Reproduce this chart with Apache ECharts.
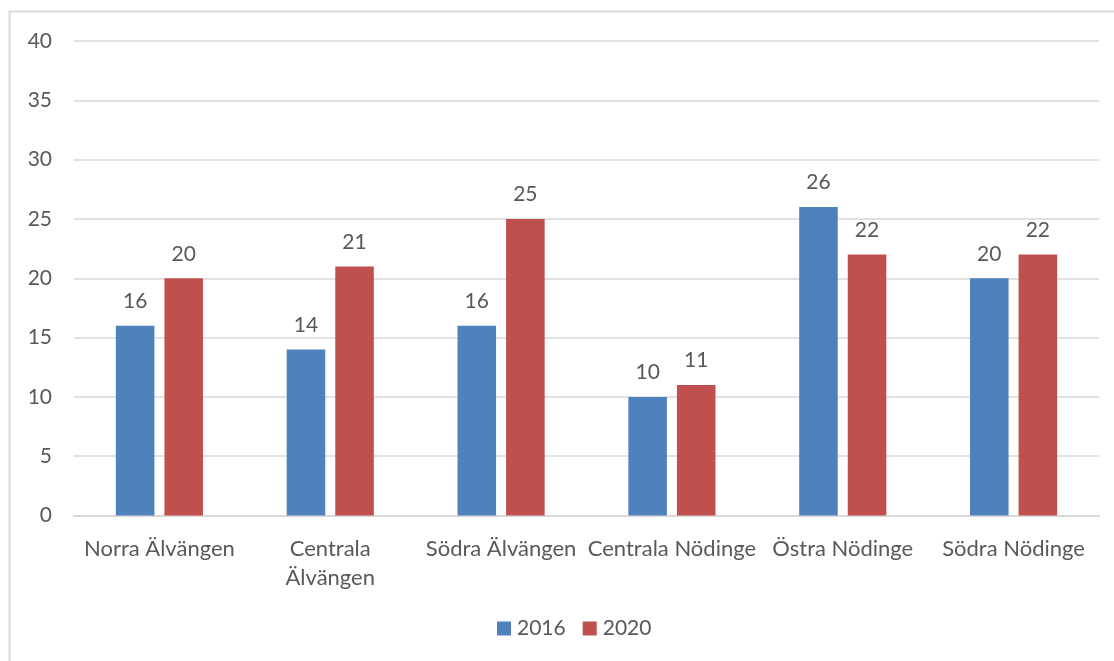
<!DOCTYPE html>
<html>
<head>
<meta charset="utf-8">
<script src="https://cdn.jsdelivr.net/npm/echarts@6/dist/echarts.min.js"></script>
<style>
  html, body { margin: 0; padding: 0; background: #fff; }
  #chart { width: 1114px; height: 661px; }
</style>
</head>
<body>
<div id="chart"></div>
<script>
// områden och värden
var categories = ['Norra Älvängen', 'Centrala\nÄlvängen', 'Södra Älvängen', 'Centrala Nödinge', 'Östra Nödinge', 'Södra Nödinge'];
var values2016 = [16, 14, 16, 10, 26, 20];
var values2020 = [20, 21, 25, 11, 22, 22];
var seriesNames = ['2016', '2020'];

var textColor = '#595959';
var fontFam = 'Lato, "Noto Sans", sans-serif';

var chart = echarts.init(document.getElementById('chart'));
var option = {
    backgroundColor: '#fff',
    animation: false,
    textStyle: { fontFamily: fontFam, color: textColor },
    graphic: [{
        type: 'rect',
        shape: { x: 9.5, y: 11.5, width: 1200, height: 700 },
        style: { fill: 'none', stroke: '#d9d9d9', lineWidth: 2 },
        silent: true
    }],
    grid: { left: 74, right: 15, top: 41, bottom: 145.5, containLabel: false },
    legend: {
        data: seriesNames,
        bottom: 17,
        left: 492,
        itemWidth: 14,
        itemHeight: 14,
        itemGap: 17,
        icon: 'rect',
        textStyle: { fontSize: 21, color: textColor, fontFamily: fontFam, padding: [0, 0, 0, 1] }
    },
    xAxis: {
        type: 'category',
        data: categories,
        axisLine: { lineStyle: { color: '#d9d9d9', width: 2 } },
        axisTick: { show: false },
        axisLabel: { interval: 0, fontSize: 22, color: textColor, margin: 19, lineHeight: 29, fontFamily: fontFam }
    },
    yAxis: {
        type: 'value',
        min: 0,
        max: 40,
        interval: 5,
        axisLine: { show: false },
        axisTick: { show: false },
        splitLine: { lineStyle: { color: '#d9d9d9', width: 1.5 } },
        axisLabel: { fontSize: 21, color: textColor, margin: 22, fontFamily: fontFam }
    },
    series: [{
        name: seriesNames[0],
        type: 'bar',
        data: values2016,
        itemStyle: { color: '#4F81BD' },
        barGap: '26%',
        barCategoryGap: '49%',
        label: { show: true, position: 'top', distance: 14, fontSize: 21, color: textColor, fontFamily: fontFam }
    }, {
        name: seriesNames[1],
        type: 'bar',
        data: values2020,
        itemStyle: { color: '#C0504D' },
        barGap: '26%',
        barCategoryGap: '49%',
        label: { show: true, position: 'top', distance: 14, fontSize: 21, color: textColor, fontFamily: fontFam }
    }]
};
chart.setOption(option);
window.onresize = chart.resize;
</script>
</body>
</html>
